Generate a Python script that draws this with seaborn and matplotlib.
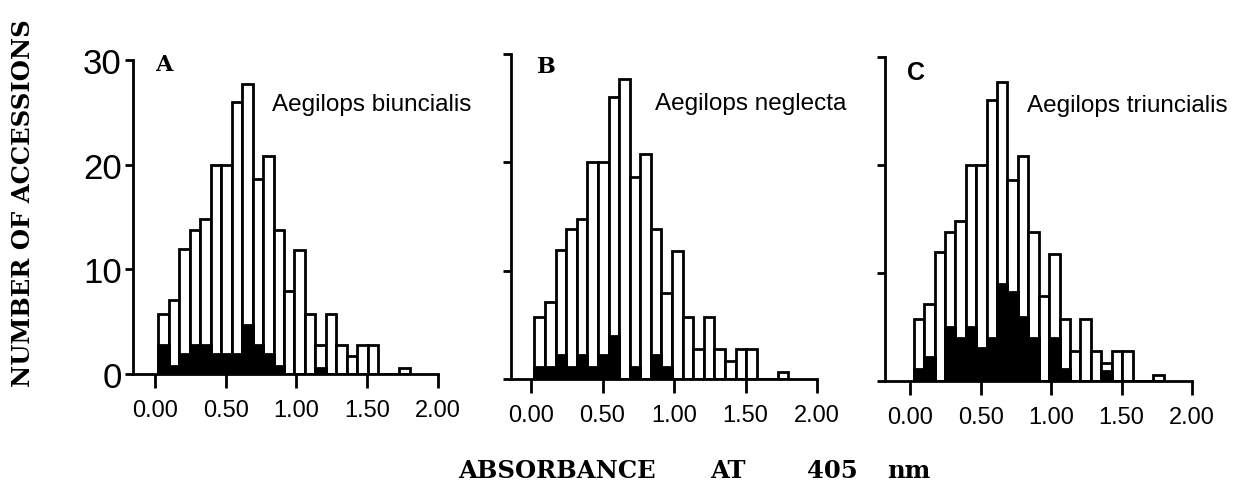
import numpy as np
import pandas as pd
import seaborn as sns
import matplotlib.pyplot as plt

# histogram bins (absorbance at 405 nm)
bin_edges = np.linspace(0.024, 1.8, 25)
bin_centres = (bin_edges[:-1] + bin_edges[1:]) / 2

# all accessions (white bars, same in every panel)
all_counts = [5.7, 7.1, 11.9, 13.8, 14.8, 20.0, 20.0, 26.0, 27.7, 18.6, 20.8, 13.8,
              7.9, 11.8, 5.7, 2.8, 5.7, 2.8, 1.7, 2.8, 2.8, 0, 0, 0.6]

# accessions reacting with each species (black bars)
biuncialis = [2.8, 0.8, 1.9, 2.8, 2.8, 1.9, 1.9, 1.9, 4.7, 2.8, 1.9, 0.8,
              0, 0, 0, 0.6, 0, 0, 0, 0, 0, 0, 0, 0]
neglecta = [1.1, 1.1, 2.2, 1.1, 2.2, 1.1, 2.2, 4.0, 0, 1.1, 0, 2.2,
            1.1, 0, 0, 0, 0, 0, 0, 0, 0, 0, 0, 0]
triuncialis = [1.1, 2.2, 0, 5.0, 4.0, 5.0, 3.1, 4.0, 9.0, 8.2, 5.9, 4.0,
               0, 4.0, 1.1, 0, 0, 0, 0.9, 0, 0, 0, 0, 0]

panels = ['A', 'B', 'C']
species = ['Aegilops biuncialis', 'Aegilops neglecta', 'Aegilops triuncialis']
black_series = [biuncialis, neglecta, triuncialis]
x_ticks = [0.0, 0.5, 1.0, 1.5, 2.0]
x_labels = ['0.00', '0.50', '1.00', '1.50', '2.00']
y_ticks = [0, 10, 20, 30]
xlabel_words = ['ABSORBANCE', 'AT', '405', 'nm']

sns.set_style('ticks')
plt.rcParams['font.family'] = ['Liberation Sans', 'DejaVu Sans']
for k in ['text.color', 'axes.labelcolor', 'xtick.color', 'ytick.color', 'axes.edgecolor']:
    plt.rcParams[k] = 'black'

fig = plt.figure(figsize=(12.51, 4.81), dpi=100)

# axes boxes in figure fractions (left, bottom, width, height)
boxes = [(0.1063, 0.2204, 0.2438, 0.6528),
         (0.4085, 0.2100, 0.2446, 0.6757),
         (0.7074, 0.2058, 0.2454, 0.6736)]
xlefts = [-0.155, -0.14, -0.18]
letter_pos = [(0.0, 29.6), (0.04, 28.9), (-0.02, 28.6)]
name_pos = [(0.826, 25.8), (0.865, 25.5), (0.83, 25.6)]
edges = [float(e) for e in bin_edges]

for i in range(3):
    ax = fig.add_axes(boxes[i])
    df = pd.DataFrame({'absorbance': bin_centres,
                       'total': all_counts,
                       'positive': black_series[i]})
    sns.histplot(data=df, x='absorbance', weights='total', bins=edges,
                 color='white', edgecolor='black', linewidth=2, alpha=1, ax=ax)
    sns.histplot(data=df, x='absorbance', weights='positive', bins=edges,
                 color='black', edgecolor='black', linewidth=2, alpha=1, ax=ax)

    ax.set_xlim(xlefts[i], 2.0)
    ax.set_ylim(0, 30)
    ax.set_xticks(x_ticks)
    ax.set_xticklabels(x_labels, fontsize=17)
    ax.set_yticks(y_ticks)
    if i == 0:
        ax.set_yticklabels([str(v) for v in y_ticks], fontsize=25)
    else:
        ax.set_yticklabels([])
    ax.tick_params(axis='x', length=10, width=2, direction='out', pad=8)
    ax.tick_params(axis='y', length=6, width=2, direction='out', pad=2)
    ax.set_xlabel('')
    ax.set_ylabel('')
    for s in ['left', 'bottom']:
        ax.spines[s].set_linewidth(2)
    sns.despine(ax=ax)

    if panels[i] == 'C':
        ax.text(letter_pos[i][0], letter_pos[i][1], 'C', fontsize=18,
                fontweight='bold', va='center', ha='left')
    else:
        ax.text(letter_pos[i][0], letter_pos[i][1], panels[i], fontsize=16,
                fontweight='bold', family='DejaVu Serif', va='center', ha='left')
    ax.text(name_pos[i][0], name_pos[i][1], species[i], fontsize=17.5,
            va='center', ha='left')

# x label, word by word as in the original typesetting
word_x = [458, 710, 807, 887]
for w, px in zip(xlabel_words, word_x):
    fig.text(px / 1251, 1 - 471 / 481, w, fontsize=17.5, fontweight='bold',
             family='DejaVu Serif', ha='left', va='center')
fig.text(23 / 1251, 1 - 203 / 481, 'NUMBER OF ACCESSIONS', fontsize=17.5,
         fontweight='bold', family='DejaVu Serif', rotation=90,
         ha='center', va='center')

fig.savefig('out.png', dpi=100)
